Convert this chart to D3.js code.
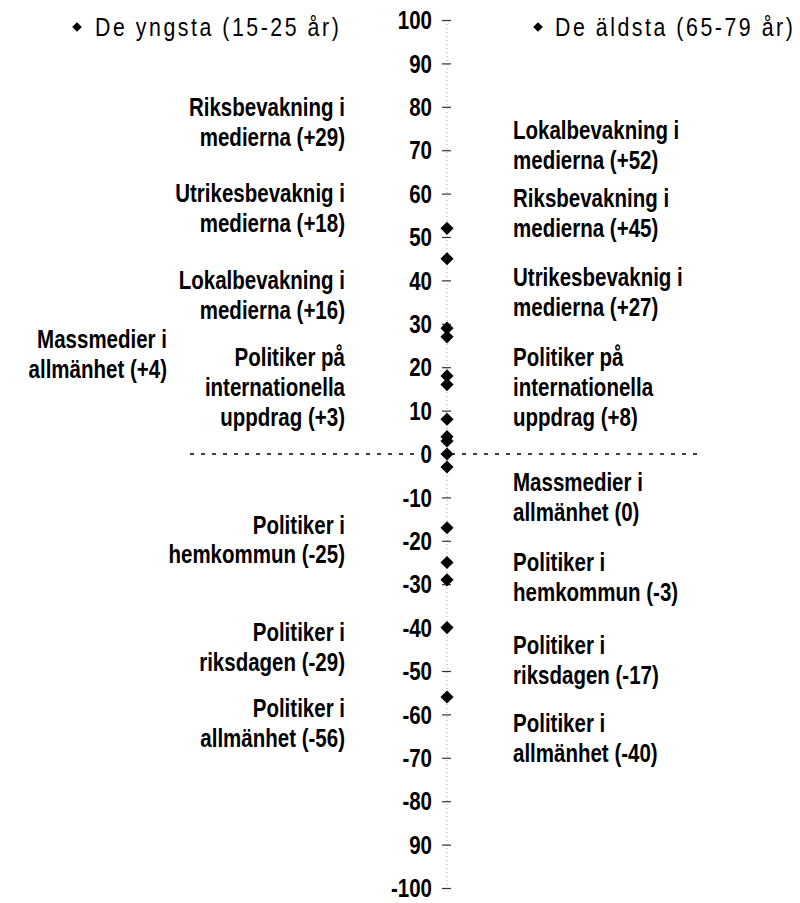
<!DOCTYPE html>
<html>
<head>
<meta charset="utf-8">
<script src="https://cdn.jsdelivr.net/npm/d3@7"></script>
<style>
  html, body { margin: 0; padding: 0; background: #fff; }
  svg text { font-family: 'Liberation Sans', Arial, sans-serif; fill: #000; }
</style>
</head>
<body>
<svg id="chart" width="800" height="903"></svg>
<script>
// ---- data ----
const seriesNames = ["De yngsta (15-25 år)", "De äldsta (65-79 år)"];
const youngCategories = [
  "Riksbevakning i|medierna",
  "Utrikesbevaknig i|medierna",
  "Lokalbevakning i|medierna",
  "Massmedier i|allmänhet",
  "Politiker på|internationella|uppdrag",
  "Politiker i|hemkommun",
  "Politiker i|riksdagen",
  "Politiker i|allmänhet"
];
const youngValues = [29, 18, 16, 4, 3, -25, -29, -56];
const oldCategories = [
  "Lokalbevakning i|medierna",
  "Riksbevakning i|medierna",
  "Utrikesbevaknig i|medierna",
  "Politiker på|internationella|uppdrag",
  "Massmedier i|allmänhet",
  "Politiker i|hemkommun",
  "Politiker i|riksdagen",
  "Politiker i|allmänhet"
];
const oldValues = [52, 45, 27, 8, 0, -3, -17, -40];
const tickValues = [100, 90, 80, 70, 60, 50, 40, 30, 20, 10, 0, -10, -20, -30, -40, -50, -60, -70, -80, -90, -100];
const tickLabels = ["100", "90", "80", "70", "60", "50", "40", "30", "20", "10", "0", "-10", "-20", "-30", "-40", "-50", "-60", "-70", "-80", "90", "-100"];

// ---- layout (label anchors, in value units, for the first line of each label) ----
const youngLabelAt = [80, 60, 40, 26.5, 22.3, -16.3, -41, -58.5];
const oldLabelAt = [74.5, 59, 40.7, 22.3, -6.4, -25, -44, -62];

const svg = d3.select("#chart");
const axisX = 447;
const y = d3.scaleLinear().domain([-100, 100]).range([888, 20]);
const lineH = 30;
const labelFont = 25;
const squeeze = 0.82; // condensed look

const fmt = v => v > 0 ? "+" + v : String(v);

// axis line (faint dotted)
svg.append("line")
  .attr("x1", axisX).attr("x2", axisX)
  .attr("y1", y(100)).attr("y2", y(-100))
  .attr("stroke", "#aaa").attr("stroke-width", 1)
  .attr("stroke-dasharray", "1,3");

// zero dashed line
const zeroY = y(0);
svg.append("line")
  .attr("x1", 190).attr("x2", 424)
  .attr("y1", zeroY).attr("y2", zeroY)
  .attr("stroke", "#000").attr("stroke-width", 1.6)
  .attr("stroke-dasharray", "4,7");
svg.append("line")
  .attr("x1", axisX + 4).attr("x2", 700)
  .attr("y1", zeroY).attr("y2", zeroY)
  .attr("stroke", "#000").attr("stroke-width", 1.6)
  .attr("stroke-dasharray", "4,7");

// axis with ticks and labels
const axis = d3.axisRight(y)
  .tickValues(tickValues)
  .tickSize(9)
  .tickFormat((d, i) => tickLabels[i]);
const axG = svg.append("g").attr("transform", `translate(${axisX - 5},0)`).call(axis);
axG.select(".domain").remove();
axG.selectAll(".tick line").attr("stroke", "#333").attr("stroke-width", 1.2);
axG.selectAll(".tick text")
  .attr("x", -10 / squeeze)
  .attr("dy", "0.35em")
  .attr("transform", `scale(${squeeze},1)`)
  .attr("text-anchor", "end")
  .style("font-family", "'Liberation Sans', Arial, sans-serif")
  .style("font-size", "25px")
  .style("font-weight", "bold")
  .attr("fill", "#000");

// points
const sym = d3.symbol().type(d3.symbolDiamond2 || d3.symbolDiamond).size(110);
const allValues = youngValues.concat(oldValues);
svg.append("g").selectAll("path")
  .data(allValues)
  .join("path")
  .attr("d", sym)
  .attr("transform", d => `translate(${axisX},${y(d)})`)
  .attr("fill", "#000");

// legend headers
const legSym = d3.symbol().type(d3.symbolDiamond2 || d3.symbolDiamond).size(60);
const legends = [
  { name: seriesNames[0], sx: 77, tx: 95 },
  { name: seriesNames[1], sx: 538, tx: 555 }
];
legends.forEach(l => {
  svg.append("path").attr("d", legSym).attr("transform", `translate(${l.sx},${y(100) + 7})`).attr("fill", "#000");
  svg.append("text")
    .attr("transform", `translate(${l.tx},${y(100) + 7}) scale(${squeeze},1)`)
    .attr("dy", "0.35em")
    .style("font-size", "26px")
    .style("letter-spacing", "3.1px")
    .text(l.name);
});

// labels
function drawLabels(cats, vals, at, side) {
  cats.forEach((c, i) => {
    const lines = c.split("|");
    lines[lines.length - 1] += ` (${fmt(vals[i])})`;
    let x, anchor;
    if (side === "left") {
      x = (c.startsWith("Massmedier")) ? 167 : 345;
      anchor = "end";
    } else {
      x = 513; anchor = "start";
    }
    const t = svg.append("text")
      .attr("transform", `translate(${x},${y(at[i])}) scale(${squeeze},1)`)
      .attr("text-anchor", anchor)
      .style("font-size", labelFont + "px")
      .style("font-weight", "bold");
    lines.forEach((ln, k) => {
      t.append("tspan")
        .attr("x", 0)
        .attr("y", k * lineH)
        .attr("dy", "0.35em")
        .text(ln);
    });
  });
}
drawLabels(youngCategories, youngValues, youngLabelAt, "left");
drawLabels(oldCategories, oldValues, oldLabelAt, "right");
</script>
</body>
</html>
